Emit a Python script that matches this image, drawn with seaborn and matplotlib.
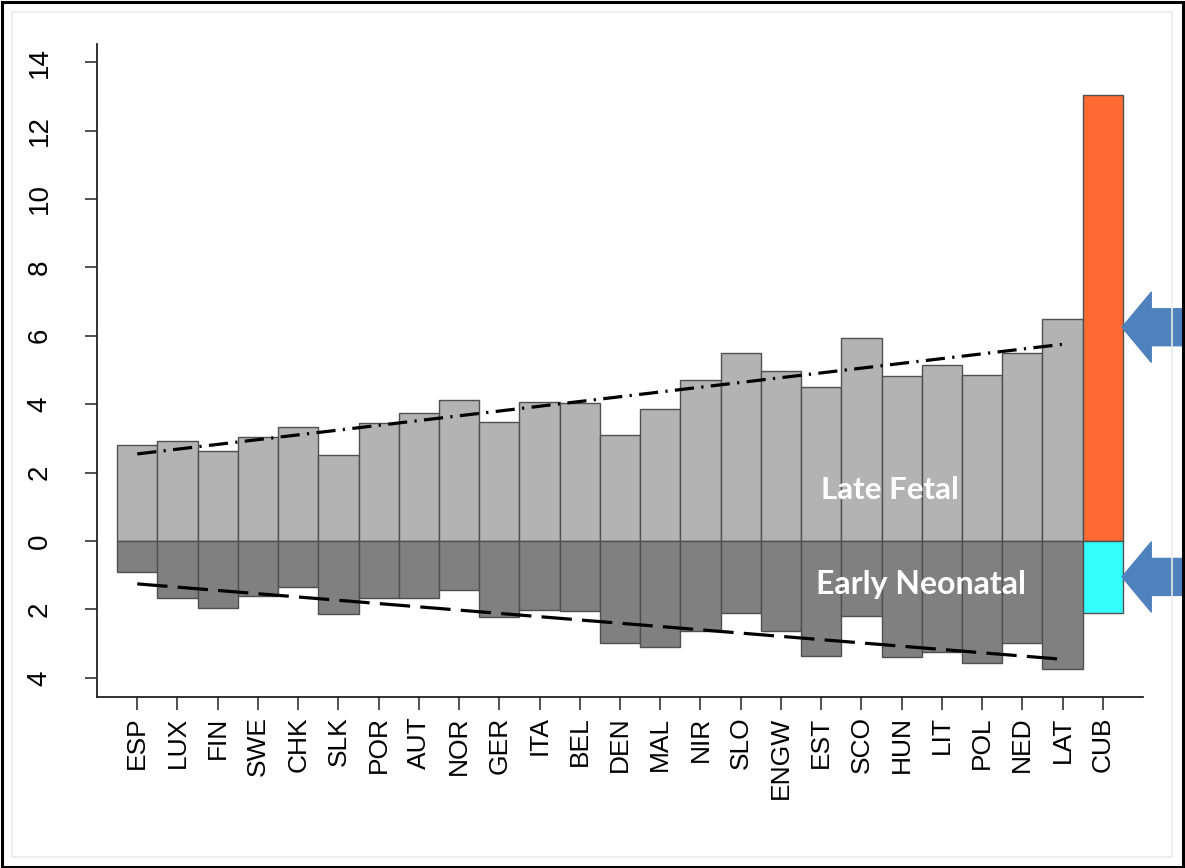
import numpy as np
import pandas as pd
import matplotlib
matplotlib.use("Agg")
import matplotlib.pyplot as plt
from matplotlib.patches import Rectangle
import seaborn as sns

# ---------------- data ----------------
countries = ["ESP", "LUX", "FIN", "SWE", "CHK", "SLK", "POR", "AUT", "NOR", "GER",
             "ITA", "BEL", "DEN", "MAL", "NIR", "SLO", "ENGW", "EST", "SCO", "HUN",
             "LIT", "POL", "NED", "LAT", "CUB"]
late_fetal = [2.81, 2.93, 2.64, 3.03, 3.32, 2.52, 3.46, 3.73, 4.13, 3.49,
              4.07, 4.03, 3.10, 3.86, 4.72, 5.49, 4.98, 4.49, 5.94, 4.82,
              5.15, 4.86, 5.50, 6.49, 13.04]
early_neonatal = [0.92, 1.66, 1.96, 1.60, 1.33, 2.14, 1.67, 1.67, 1.42, 2.23,
                  2.01, 2.05, 2.98, 3.09, 2.62, 2.11, 2.62, 3.35, 2.18, 3.38,
                  3.23, 3.58, 2.98, 3.75, 2.11]
y_ticks = [-4, -2, 0, 2, 4, 6, 8, 10, 12, 14]
y_tick_labels = ["4", "2", "0", "2", "4", "6", "8", "10", "12", "14"]
highlight = "CUB"
label_late = "Late Fetal"
label_early = "Early Neonatal"
arrow_levels = [6.25, -1.05]

# ---------------- styling ----------------
GRAY_LATE = "#B3B3B3"
GRAY_EARLY = "#808080"
CUB_LATE = "#FF6A33"
CUB_EARLY = "#33FFFF"
EDGE = "#505050"
ARROW = "#4F81BD"

sns.set_theme(style="ticks")
plt.rcParams["font.family"] = ["Liberation Sans", "DejaVu Sans"]

df = pd.DataFrame({"country": countries,
                   "late": late_fetal,
                   "early": [-v for v in early_neonatal]})
df["pos"] = np.arange(len(df))

fig = plt.figure(figsize=(11.85, 8.68), dpi=100)
ax = fig.add_axes([97 / 1185, 1 - 697 / 868, (1143 - 97) / 1185, (697 - 44) / 868])

pal_late = {c: (CUB_LATE if c == highlight else GRAY_LATE) for c in countries}
pal_early = {c: (CUB_EARLY if c == highlight else GRAY_EARLY) for c in countries}

sns.barplot(data=df, x="country", y="late", hue="country", palette=pal_late,
            order=countries, width=1.0, edgecolor=EDGE, linewidth=1.0,
            saturation=1, legend=False, ax=ax, zorder=2)
sns.barplot(data=df, x="country", y="early", hue="country", palette=pal_early,
            order=countries, width=1.0, edgecolor=EDGE, linewidth=1.0,
            saturation=1, legend=False, ax=ax, zorder=2)

# trend lines over the European countries (exclude the highlighted one)
eu = df[df["country"] != highlight]
sns.regplot(data=eu, x="pos", y="late", scatter=False, ci=None, ax=ax,
            line_kws=dict(color="black", lw=2.3, dashes=(6, 2.3, 0.7, 2.3),
                          dash_capstyle="butt", zorder=4))
sns.regplot(data=eu, x="pos", y="early", scatter=False, ci=None, ax=ax,
            line_kws=dict(color="black", lw=2.3, dashes=(9.5, 3.2),
                          dash_capstyle="butt", zorder=4))

# in-bar labels
ax.text(18.7, 1.49, label_late, color="white", fontsize=22.5, fontweight="bold",
        family=["Lato", "DejaVu Sans"], ha="center", va="center", zorder=5)
ax.text(19.48, -1.26, label_early, color="white", fontsize=23, fontweight="bold",
        family=["Lato", "DejaVu Sans"], ha="center", va="center", zorder=5)

# arrows pointing at the highlighted bars
hi = df[df["country"] == highlight].iloc[0]
for yv in arrow_levels:
    ax.annotate("", xy=(hi["pos"] + 0.48, yv), xycoords="data",
                xytext=(1.02, yv), textcoords=("figure fraction", "data"),
                arrowprops=dict(arrowstyle="simple,head_length=0.75,head_width=1.8,tail_width=0.95",
                                color=ARROW, shrinkA=0, shrinkB=0, mutation_scale=28),
                annotation_clip=False, zorder=6)

# axes formatting
ax.set_xlim(-1.0, 25.0)
ax.set_ylim(-4.56, 14.53)
ax.set_yticks(y_ticks)
ax.set_yticklabels(y_tick_labels, rotation=90, va="center", fontsize=20)
ax.set_xticks(df["pos"])
ax.set_xticklabels(countries, rotation=90, fontsize=19)
ax.set_xlabel("")
ax.set_ylabel("")
for s in ("top", "right"):
    ax.spines[s].set_visible(False)
for s in ("left", "bottom"):
    ax.spines[s].set_color("#222222")
    ax.spines[s].set_linewidth(1.3)
ax.tick_params(axis="y", length=9, width=1.1, color="#222222", pad=23, labelcolor="black")
ax.tick_params(axis="x", length=9, width=1.1, color="#222222", pad=5, labelcolor="black")
ax.patch.set_alpha(0)

# slide frame
fig.patches.append(Rectangle((12 / 1185, 11 / 868), (1172 - 12) / 1185, (856 - 11) / 868,
                             transform=fig.transFigure, fill=False, ec="#EBEBEB", lw=1.2,
                             zorder=9))
fig.patches.append(Rectangle((1.5 / 1185, 1.5 / 868), (1183 - 1.5) / 1185, (866 - 1.5) / 868,
                             transform=fig.transFigure, fill=False, ec="black", lw=2.2,
                             zorder=10))

fig.savefig("out.png", dpi=100)
